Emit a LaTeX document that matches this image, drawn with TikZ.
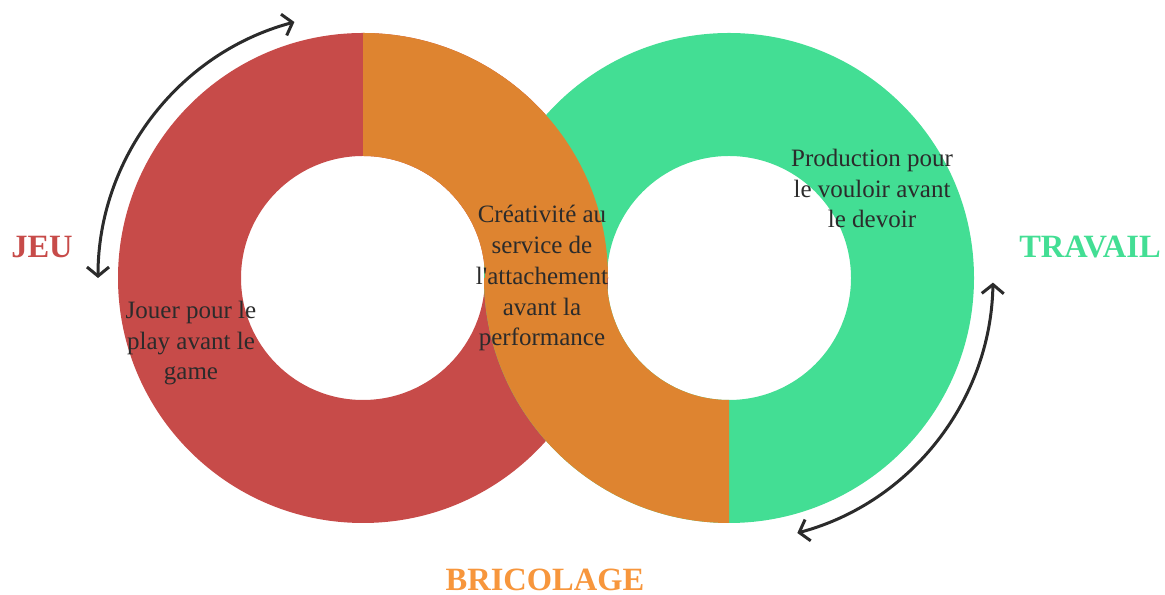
\documentclass[tikz,border=0pt]{standalone}
\usepackage{fontspec}
\setmainfont{Liberation Serif}
\usetikzlibrary{positioning}
\usetikzlibrary{arrows.meta}
\usetikzlibrary{calc}

\definecolor{jeured}{HTML}{C74B49}
\definecolor{bricoorange}{HTML}{DE8430}
\definecolor{bricolabel}{HTML}{F7963C}
\definecolor{travgreen}{HTML}{43DE94}
\definecolor{inkgray}{HTML}{2B2B2B}

\begin{document}
\begin{tikzpicture}[ x = 1bp, y = 1bp
                   , >={Straight Barb[length=9bp, width=22bp]}
                   , every node/.style = { inner sep = 0pt
                                         , align = center }
                   ]

  \tikzset{ ringtext/.style = {font=\fontsize{25bp}{30.75bp}\selectfont, text=inkgray, anchor=base}
          , ringtitle/.style = {font=\fontsize{32.5bp}{38bp}\selectfont\bfseries, anchor=base}
          , cyclearrow/.style = {draw=inkgray, line width=3bp, line cap=round, <->}}

  \useasboundingbox (0,0) rectangle (1165,595);

  %%
  %% Rings
  %%
  \coordinate (L) at (363,317);
  \coordinate (R) at (729,317);
  \fill[jeured, even odd rule] (L) circle (245) (L) circle (122);
  \fill[travgreen, even odd rule] (R) circle (245) (R) circle (122);
  \fill[bricoorange] ($(L)+(0,245)$) arc[start angle=90, end angle=0, radius=245]
    -- ($(L)+(122,0)$) arc[start angle=0, end angle=90, radius=122] -- cycle;
  \fill[bricoorange] ($(R)+(-245,0)$) arc[start angle=180, end angle=270, radius=245]
    -- ($(R)+(0,-122)$) arc[start angle=270, end angle=180, radius=122] -- cycle;

  %%
  %% Texts (base = last line)
  %%
  \node (play)  [ringtext] at (191,215) {Jouer pour le\\play avant le\\game};
  \node (craft) [ringtext] at (542,249) {Créativité au\\service de\\l\textquotesingle attachement\\avant la\\performance};
  \node (prod)  [ringtext] at (872,367) {Production pour\\le vouloir avant\\le devoir};
  \node (jeu)       [ringtitle, text=jeured]     at (42,337)   {JEU};
  \node (travail)   [ringtitle, text=travgreen]  at (1090,337) {TRAVAIL};
  \node (bricolage) [ringtitle, text=bricolabel] at (545,4)    {BRICOLAGE};

  %%
  %% Cycle arrows
  %%
  \coordinate (jeuend)  at ($(L)+(180:265)$);
  \coordinate (travend) at ($(R)+(-75:264)$);
  \draw[cyclearrow] (jeuend) arc[start angle=180, end angle=105, radius=265];
  \draw[cyclearrow] (travend) arc[start angle=-75, end angle=-1, radius=264];
\end{tikzpicture}
\end{document}
